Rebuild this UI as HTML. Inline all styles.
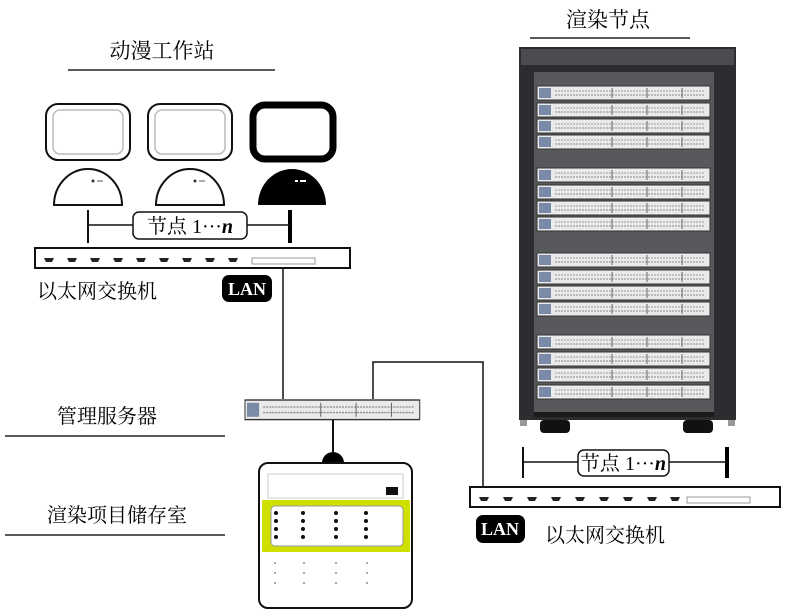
<!DOCTYPE html>
<html><head><meta charset="utf-8"><style>
html,body{margin:0;padding:0;background:#fff;}
svg{display:block;}
text{font-family:"Liberation Serif","Noto Serif CJK SC",serif;}
.cjk{font-family:"Liberation Serif","Noto Serif CJK SC",serif;}
</style></head><body>
<svg width="786" height="615" viewBox="0 0 786 615" xmlns="http://www.w3.org/2000/svg">
<defs>
  <g id="srv">
    <rect x="0" y="0" width="173" height="14" fill="#eaeaea" stroke="#333" stroke-width="1"/>
    <rect x="2" y="2" width="12" height="10" fill="#7a8aa8"/>
    <line x1="18" y1="5" x2="168" y2="5" stroke="#999" stroke-dasharray="2,1"/>
    <line x1="18" y1="9" x2="168" y2="9" stroke="#888" stroke-dasharray="2,1"/>
    <line x1="75" y1="2" x2="75" y2="12" stroke="#666"/>
    <line x1="110" y1="2" x2="110" y2="12" stroke="#666"/>
    <line x1="145" y1="2" x2="145" y2="12" stroke="#666"/>
  </g>
  <g id="port"><path d="M0,0 h10 l-2,4 h-6 z" fill="#222"/></g>
</defs>

<text class="cjk" x="162" y="58" font-size="21" text-anchor="middle">动漫工作站</text>
<line x1="68" y1="70" x2="275" y2="70" stroke="#222" stroke-width="1.5"/>
<text class="cjk" x="608" y="27" font-size="21" text-anchor="middle">渲染节点</text>
<line x1="530" y1="38" x2="690" y2="38" stroke="#222" stroke-width="1.5"/>

<rect x="46" y="104" width="84" height="56" rx="12" fill="#fff" stroke="#111" stroke-width="2"/>
<rect x="53" y="110" width="70" height="44" rx="7" fill="#fff" stroke="#bbb" stroke-width="1.5"/>
<rect x="148" y="104" width="84" height="56" rx="12" fill="#fff" stroke="#111" stroke-width="2"/>
<rect x="155" y="110" width="70" height="44" rx="7" fill="#fff" stroke="#bbb" stroke-width="1.5"/>
<rect x="253" y="105" width="80" height="54" rx="12" fill="#fff" stroke="#000" stroke-width="7"/>
<path d="M54,205 A34,36 0 0 1 122,205 Z" fill="#fff" stroke="#111" stroke-width="2"/>
<circle cx="93" cy="181" r="1.5" fill="#333"/><rect x="97" y="180" width="6" height="2" fill="#aaa"/>
<path d="M156,205 A34,36 0 0 1 224,205 Z" fill="#fff" stroke="#111" stroke-width="2"/>
<circle cx="195" cy="181" r="1.5" fill="#333"/><rect x="199" y="180" width="6" height="2" fill="#aaa"/>
<path d="M258,205 A34,36 0 0 1 326,205 Z" fill="#000"/>
<rect x="295" y="180" width="3" height="2" fill="#fff"/><rect x="300" y="180" width="6" height="2" fill="#fff"/>

<line x1="88" y1="210" x2="88" y2="243" stroke="#111" stroke-width="2"/>
<line x1="290" y1="210" x2="290" y2="243" stroke="#000" stroke-width="4"/>
<line x1="88" y1="225" x2="290" y2="225" stroke="#111" stroke-width="1.5"/>
<rect x="133" y="212" width="114" height="27" rx="6" fill="#fff" stroke="#111" stroke-width="1.5"/>
<text x="190" y="233" font-size="20" text-anchor="middle"><tspan class="cjk">节点</tspan> 1···<tspan font-style="italic" font-weight="bold">n</tspan></text>

<rect x="35" y="248" width="315" height="20" fill="#fff" stroke="#111" stroke-width="2"/>
<use href="#port" x="44" y="258"/><use href="#port" x="67" y="258"/><use href="#port" x="90" y="258"/>
<use href="#port" x="113" y="258"/><use href="#port" x="136" y="258"/><use href="#port" x="159" y="258"/>
<use href="#port" x="182" y="258"/><use href="#port" x="205" y="258"/><use href="#port" x="228" y="258"/>
<rect x="252" y="258" width="63" height="6" fill="#fff" stroke="#999"/>
<text class="cjk" x="37" y="298" font-size="20">以太网交换机</text>
<rect x="222" y="275" width="50" height="27" rx="7" fill="#000"/>
<text x="247" y="295" font-size="18" fill="#fff" text-anchor="middle" font-weight="bold">LAN</text>
<line x1="283" y1="268" x2="283" y2="399" stroke="#111" stroke-width="1.5"/>

<text class="cjk" x="57" y="423" font-size="20">管理服务器</text>
<line x1="5" y1="436" x2="225" y2="436" stroke="#222" stroke-width="1.5"/>
<g transform="translate(245,400) scale(1.01,1.4)"><use href="#srv"/></g>
<polyline points="373,399 373,362 483,362 483,488" fill="none" stroke="#111" stroke-width="1.5"/>
<line x1="333" y1="420" x2="333" y2="452" stroke="#111" stroke-width="2"/>
<path d="M322,463 A11,11 0 0 1 344,463 Z" fill="#000"/>

<text class="cjk" x="47" y="522" font-size="20">渲染项目储存室</text>
<line x1="5" y1="535" x2="225" y2="535" stroke="#222" stroke-width="1.5"/>
<rect x="259" y="463" width="153" height="145" rx="9" fill="#fff" stroke="#111" stroke-width="2"/>
<rect x="268" y="474" width="135" height="24" fill="#fff" stroke="#ccc"/>
<rect x="386" y="487" width="12" height="8" fill="#111"/>
<rect x="262" y="500" width="148" height="52" fill="#cfe000"/>
<rect x="271" y="506" width="132" height="40" rx="4" fill="#fff" stroke="#999"/>
<g fill="#111">
<circle cx="276" cy="513" r="2"/><circle cx="276" cy="521" r="2"/><circle cx="276" cy="529" r="2"/><circle cx="276" cy="537" r="2"/>
<circle cx="303" cy="513" r="2"/><circle cx="303" cy="521" r="2"/><circle cx="303" cy="529" r="2"/><circle cx="303" cy="537" r="2"/>
<circle cx="336" cy="513" r="2"/><circle cx="336" cy="521" r="2"/><circle cx="336" cy="529" r="2"/><circle cx="336" cy="537" r="2"/>
<circle cx="366" cy="513" r="2"/><circle cx="366" cy="521" r="2"/><circle cx="366" cy="529" r="2"/><circle cx="366" cy="537" r="2"/>
</g>
<g fill="#aaa">
<rect x="274" y="562" width="2" height="2"/><rect x="274" y="572" width="2" height="2"/><rect x="274" y="582" width="2" height="2"/>
<rect x="303" y="562" width="2" height="2"/><rect x="303" y="572" width="2" height="2"/><rect x="303" y="582" width="2" height="2"/>
<rect x="335" y="562" width="2" height="2"/><rect x="335" y="572" width="2" height="2"/><rect x="335" y="582" width="2" height="2"/>
<rect x="366" y="562" width="2" height="2"/><rect x="366" y="572" width="2" height="2"/><rect x="366" y="582" width="2" height="2"/>
</g>

<rect x="519" y="47" width="217" height="373" fill="#2b2d30"/>
<rect x="521" y="49" width="213" height="16" fill="#4a4c50"/>
<rect x="534" y="72" width="180" height="340" fill="#58595c"/>
<rect x="534" y="412" width="180" height="5" fill="#1a1a1a"/>
<rect x="540" y="420" width="30" height="13" rx="4" fill="#111"/>
<rect x="683" y="420" width="30" height="13" rx="4" fill="#111"/>
<rect x="520" y="420" width="7" height="6" fill="#999"/>
<rect x="728" y="420" width="7" height="6" fill="#999"/>
<use href="#srv" x="537" y="86"/><use href="#srv" x="537" y="103"/><use href="#srv" x="537" y="119"/><use href="#srv" x="537" y="135"/>
<use href="#srv" x="537" y="168"/><use href="#srv" x="537" y="185"/><use href="#srv" x="537" y="201"/><use href="#srv" x="537" y="217"/>
<use href="#srv" x="537" y="253"/><use href="#srv" x="537" y="270"/><use href="#srv" x="537" y="286"/><use href="#srv" x="537" y="302"/>
<use href="#srv" x="537" y="335"/><use href="#srv" x="537" y="352"/><use href="#srv" x="537" y="368"/><use href="#srv" x="537" y="385"/>

<line x1="523" y1="447" x2="523" y2="478" stroke="#111" stroke-width="2"/>
<line x1="727" y1="447" x2="727" y2="478" stroke="#000" stroke-width="4"/>
<line x1="523" y1="462" x2="727" y2="462" stroke="#111" stroke-width="1.5"/>
<rect x="578" y="450" width="91" height="26" rx="6" fill="#fff" stroke="#111" stroke-width="1.5"/>
<text x="623" y="470" font-size="20" text-anchor="middle"><tspan class="cjk">节点</tspan> 1···<tspan font-style="italic" font-weight="bold">n</tspan></text>

<rect x="470" y="487" width="310" height="20" fill="#fff" stroke="#111" stroke-width="2"/>
<use href="#port" x="479" y="497"/><use href="#port" x="503" y="497"/><use href="#port" x="527" y="497"/>
<use href="#port" x="551" y="497"/><use href="#port" x="575" y="497"/><use href="#port" x="599" y="497"/>
<use href="#port" x="623" y="497"/><use href="#port" x="647" y="497"/><use href="#port" x="670" y="497"/>
<rect x="687" y="497" width="63" height="6" fill="#fff" stroke="#999"/>
<rect x="476" y="515" width="49" height="28" rx="7" fill="#000"/>
<text x="500" y="535" font-size="18" fill="#fff" text-anchor="middle" font-weight="bold">LAN</text>
<text class="cjk" x="545" y="542" font-size="20">以太网交换机</text>
</svg>
</body></html>
